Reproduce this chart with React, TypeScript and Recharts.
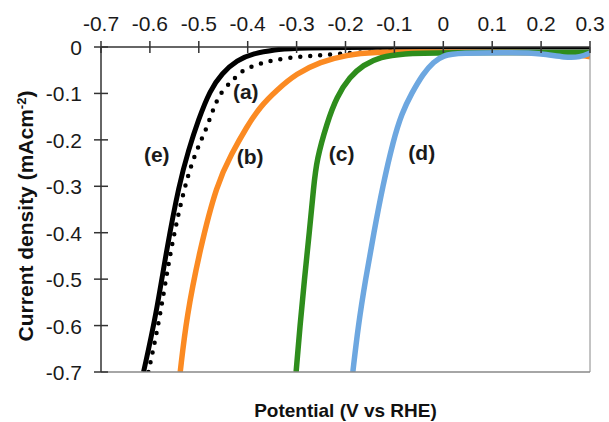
import React from 'react'
import {
  LineChart,
  Line,
  XAxis,
  YAxis,
  ReferenceDot,
} from 'recharts'

const xTicks = [-0.7, -0.6, -0.5, -0.4, -0.3, -0.2, -0.1, 0, 0.1, 0.2, 0.3]
const yTicks = [0, -0.1, -0.2, -0.3, -0.4, -0.5, -0.6, -0.7]

// (e) black solid
const ePotential = [-0.613, -0.588, -0.566, -0.54, -0.521, -0.501, -0.477, -0.453, -0.422, -0.388, -0.347, -0.293, 0.3]
const eCurrent = [-0.7, -0.581, -0.437, -0.294, -0.222, -0.157, -0.093, -0.057, -0.028, -0.014, -0.006, 0, 0]

// (a) black dotted
const aPotential = [-0.603, -0.579, -0.558, -0.528, -0.505, -0.485, -0.463, -0.444, -0.429, -0.414, -0.392, -0.369, -0.346, -0.32, -0.293, -0.269, -0.242, -0.18, -0.1]
const aCurrent = [-0.7, -0.581, -0.437, -0.294, -0.222, -0.179, -0.11, -0.085, -0.07, -0.053, -0.042, -0.034, -0.028, -0.024, -0.021, -0.019, -0.017, -0.012, -0.008]

// (b) orange
const bPotential = [-0.538, -0.525, -0.498, -0.463, -0.433, -0.402, -0.375, -0.341, -0.3, -0.252, -0.197, -0.144, -0.05, 0.05, 0.15, 0.25, 0.3]
const bCurrent = [-0.7, -0.581, -0.437, -0.294, -0.23, -0.172, -0.129, -0.093, -0.057, -0.032, -0.017, -0.011, -0.011, -0.011, -0.012, -0.013, -0.021]

// (c) green
const cPotential = [-0.301, -0.293, -0.284, -0.274, -0.265, -0.259, -0.238, -0.218, -0.191, -0.164, -0.129, -0.08, -0.02, 0.3]
const cCurrent = [-0.7, -0.6, -0.5, -0.4, -0.3, -0.243, -0.164, -0.107, -0.064, -0.039, -0.021, -0.014, -0.012, -0.012]

// (d) blue
const dPotential = [-0.185, -0.174, -0.159, -0.142, -0.124, -0.102, -0.085, -0.065, -0.041, -0.02, 0.0, 0.03, 0.15, 0.2, 0.25, 0.28, 0.3]
const dCurrent = [-0.7, -0.6, -0.5, -0.4, -0.3, -0.2, -0.143, -0.1, -0.057, -0.032, -0.018, -0.013, -0.012, -0.014, -0.023, -0.022, -0.013]

const curveNames = ['(a)', '(b)', '(c)', '(d)', '(e)']
const labelPotential = [-0.404, -0.395, -0.208, -0.044, -0.586]
const labelCurrent = [-0.096, -0.236, -0.231, -0.229, -0.233]

const zip = (v: number[], j: number[]) => v.map((x, i) => ({ v: x, j: j[i] }))

const eData = zip(ePotential, eCurrent)
const aData = zip(aPotential, aCurrent)
const bData = zip(bPotential, bCurrent)
const cData = zip(cPotential, cCurrent)
const dData = zip(dPotential, dCurrent)

const FONT = 'Liberation Sans, Arial, Helvetica, sans-serif'

const TopTick = ({ x, y, payload }: any) => (
  <g>
    <line x1={x} x2={x} y1={y - 6} y2={y + 6} stroke="#333" strokeWidth={1.5} />
    <text x={x} y={y - 16} textAnchor="middle" fontSize={21} fontFamily={FONT} fill="#1a1a1a">
      {payload.value}
    </text>
  </g>
)

const LeftTick = ({ x, y, payload }: any) => (
  <g>
    <line x1={x - 7} x2={x + 7} y1={y} y2={y} stroke="#333" strokeWidth={1.5} />
    <text x={x - 19} y={y + 8} textAnchor="end" fontSize={21} fontFamily={FONT} fill="#1a1a1a">
      {payload.value}
    </text>
  </g>
)

const CurveLabel = ({ viewBox, value }: any) => {
  const cx = viewBox.x + (viewBox.width || 0) / 2
  const cy = viewBox.y + (viewBox.height || 0) / 2
  return (
    <text
      x={cx}
      y={cy + 7}
      textAnchor="middle"
      fontSize={21}
      fontWeight="bold"
      fontFamily={FONT}
      fill="#1a1a1a"
    >
      {value}
    </text>
  )
}

const lineProps = {
  xAxisId: 'top',
  yAxisId: 'left',
  dataKey: 'j',
  type: 'basis' as const,
  dot: false,
  isAnimationActive: false,
}

export default function App() {
  return (
    <div style={{ position: 'fixed', left: 0, top: 0, background: '#fff' }}>
      <LineChart width={609} height={422} margin={{ top: 0, right: 0, bottom: 0, left: 0 }}>
        <XAxis
          xAxisId="top"
          dataKey="v"
          type="number"
          orientation="top"
          domain={[-0.7, 0.3]}
          ticks={xTicks}
          allowDataOverflow
          height={47}
          tickSize={0}
          tickMargin={0}
          tickLine={false}
          interval={0}
          axisLine={{ stroke: '#333', strokeWidth: 1.5 }}
          tick={<TopTick />}
        />
        <XAxis
          xAxisId="bottom"
          dataKey="v"
          type="number"
          orientation="bottom"
          domain={[-0.7, 0.3]}
          height={50}
          tick={false}
          tickLine={false}
          axisLine={{ stroke: '#888', strokeWidth: 1.5 }}
          label={{
            value: 'Potential (V vs RHE)',
            position: 'insideBottom',
            offset: 5,
            style: { fontSize: 19, fontWeight: 'bold', fontFamily: FONT, fill: '#111' },
          }}
        />
        <YAxis
          yAxisId="left"
          type="number"
          domain={[-0.7, 0]}
          ticks={yTicks}
          allowDataOverflow
          width={101}
          tickSize={0}
          tickMargin={0}
          tickLine={false}
          interval={0}
          axisLine={{ stroke: '#333', strokeWidth: 1.5 }}
          tick={<LeftTick />}
          label={{
            content: () => (
              <text
                transform="translate(33, 216) rotate(-90)"
                textAnchor="middle"
                fontSize={21}
                fontWeight="bold"
                fontFamily={FONT}
                fill="#111"
              >
                Current density (mAcm
                <tspan dy={-7} fontSize={13}>-2</tspan>
                <tspan dy={7}>)</tspan>
              </text>
            ),
          }}
        />
        <YAxis
          yAxisId="right"
          type="number"
          orientation="right"
          domain={[-0.7, 0]}
          width={19}
          tick={false}
          tickLine={false}
          axisLine={{ stroke: '#888', strokeWidth: 1 }}
        />
        <Line {...lineProps} data={aData} stroke="#000" strokeWidth={4.5} strokeDasharray="0 10" strokeLinecap="round" />
        <Line {...lineProps} data={eData} stroke="#000" strokeWidth={5} />
        <Line {...lineProps} data={bData} stroke="#fb8a22" strokeWidth={5.5} />
        <Line {...lineProps} data={cData} stroke="#2e8d1c" strokeWidth={5.5} />
        <Line {...lineProps} data={dData} stroke="#6da7e0" strokeWidth={5.5} />
        {curveNames.map((name, i) => (
          <ReferenceDot
            key={name}
            xAxisId="top"
            yAxisId="left"
            x={labelPotential[i]}
            y={labelCurrent[i]}
            r={0}
            fill="none"
            stroke="none"
            label={<CurveLabel value={name} />}
          />
        ))}
      </LineChart>
    </div>
  )
}
